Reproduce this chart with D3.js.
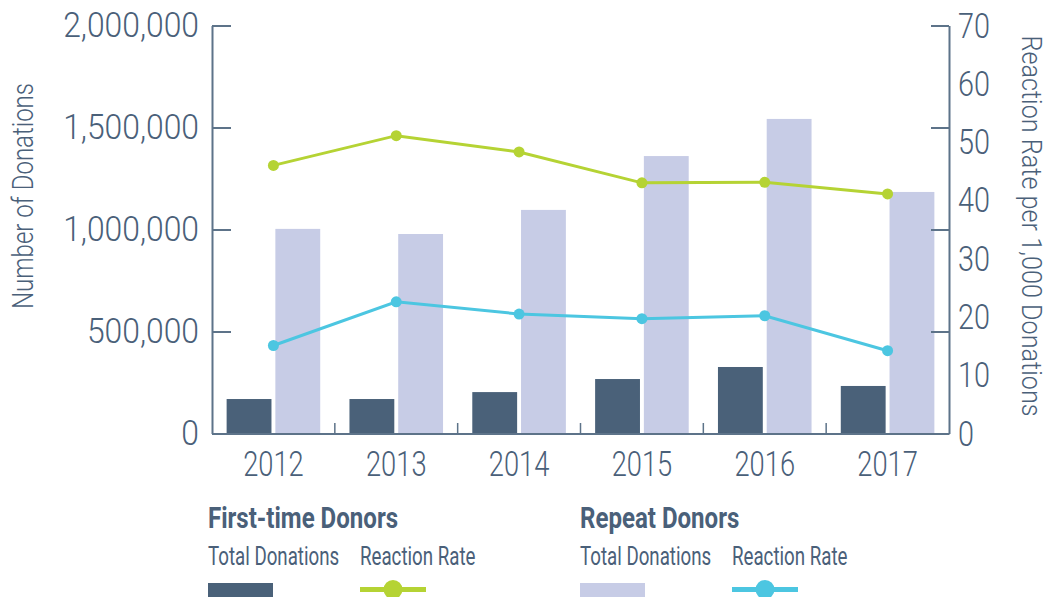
<!DOCTYPE html>
<html>
<head>
<meta charset="utf-8">
<script src="https://cdn.jsdelivr.net/npm/d3@7"></script>
<style>
  body { margin: 0; background: #fff; }
  svg { display: block; font-family: Roboto, "Noto Sans", sans-serif; }
</style>
</head>
<body>
<script>
// chart data
const years = ['2012', '2013', '2014', '2015', '2016', '2017'];
const firstTimeDonations = [169000, 169000, 203000, 267000, 326000, 233000];
const repeatDonations = [1003000, 978000, 1096000, 1360000, 1542000, 1184000];
const firstTimeRate = [46.0, 51.1, 48.3, 43.0, 43.1, 41.1];
const repeatRate = [15.1, 22.6, 20.5, 19.7, 20.2, 14.2];
const leftTicks = [0, 500000, 1000000, 1500000, 2000000];
const rightTicks = [0, 10, 20, 30, 40, 50, 60, 70];

const ink = '#4a6079';
const axisColor = '#5d7389';
const darkBar = '#4a6179';
const lightBar = '#c7cce6';
const green = '#b5d334';
const cyan = '#4cc6e1';

const svg = d3.select('body').append('svg')
    .attr('width', 1050)
    .attr('height', 597);

// scales
const x = d3.scaleBand().domain(years).range([212, 949]);
const xs = d3.scaleBand().domain(['first', 'repeat'])
    .range([0, x.bandwidth()])
    .paddingInner(0.08)
    .paddingOuter(0.3);
const yL = d3.scaleLinear().domain([0, 2000000]).range([433.5, 25.5]);
const yR = d3.scaleLinear().domain([0, 70]).range([433.5, 25.5]);

// condensed look: squeeze text horizontally
function squeeze(sel, sx, xPos) {
  sel.attr('transform', `scale(${sx},1)`);
  if (xPos !== undefined) sel.attr('x', xPos / sx);
}

// bars
const barData = years.map((y, i) => ({year: y, first: firstTimeDonations[i], repeat: repeatDonations[i]}));
svg.append('g').selectAll('.bar-first')
  .data(barData)
  .join('rect')
    .attr('class', 'bar-first')
    .attr('x', d => x(d.year) + xs('first'))
    .attr('y', d => yL(d.first))
    .attr('width', xs.bandwidth())
    .attr('height', d => yL(0) - yL(d.first))
    .attr('fill', darkBar);
svg.append('g').selectAll('.bar-repeat')
  .data(barData)
  .join('rect')
    .attr('class', 'bar-repeat')
    .attr('x', d => x(d.year) + xs('repeat'))
    .attr('y', d => yL(d.repeat))
    .attr('width', xs.bandwidth())
    .attr('height', d => yL(0) - yL(d.repeat))
    .attr('fill', lightBar);

// left axis
const gL = svg.append('g')
    .attr('transform', 'translate(212,0)')
    .call(d3.axisLeft(yL).tickValues(leftTicks).tickSizeInner(-19).tickSizeOuter(0).tickFormat(d3.format(',')));
gL.selectAll('text')
    .attr('font-size', 35).attr('font-family', 'Roboto').attr('font-weight', 300)
    .attr('fill', ink)
    .call(squeeze, 0.91, -13);

// right axis line + ticks (at the left-axis grid)
svg.append('g')
    .attr('transform', 'translate(949,0)')
    .call(d3.axisLeft(yL).tickValues(leftTicks).tickSizeInner(18).tickSizeOuter(0).tickFormat(''));

// right labels
const gR = svg.append('g')
    .attr('transform', 'translate(949,0)')
    .call(d3.axisRight(yR).tickValues(rightTicks).tickSize(0));
gR.select('.domain').remove();
gR.selectAll('text')
    .attr('font-size', 36).attr('font-family', 'Roboto').attr('font-weight', 300)
    .attr('fill', ink)
    .call(squeeze, 0.8, 9);

// x axis
const gX = svg.append('g')
    .attr('transform', 'translate(0,433.5)')
    .call(d3.axisBottom(x).tickSize(0).tickSizeOuter(0));
gX.selectAll('text')
    .attr('font-size', 35).attr('font-family', 'Roboto').attr('font-weight', 300)
    .attr('fill', ink)
    .attr('y', 18);
gX.selectAll('.tick').each(function(d) {
  const t = d3.select(this).select('text');
  t.attr('transform', 'scale(0.78,1)');
});
svg.append('g').selectAll('line')
  .data(years.slice(1))
  .join('line')
    .attr('x1', d => x(d)).attr('x2', d => x(d))
    .attr('y1', 433.5).attr('y2', 423)
    .attr('stroke', axisColor).attr('stroke-width', 1.5);

svg.selectAll('.domain').attr('stroke', axisColor).attr('stroke-width', 2);
svg.selectAll('.tick line').attr('stroke', axisColor).attr('stroke-width', 2);

// axis titles
svg.append('text')
    .attr('transform', 'translate(33,196) rotate(-90) scale(0.83,1)')
    .attr('text-anchor', 'middle')
    .attr('font-size', 29).attr('font-weight', 300)
    .attr('fill', ink)
    .text('Number of Donations');
svg.append('text')
    .attr('transform', 'translate(1022,226) rotate(90) scale(0.9,1)')
    .attr('text-anchor', 'middle')
    .attr('font-size', 28).attr('font-weight', 300)
    .attr('fill', ink)
    .text('Reaction Rate per 1,000 Donations');

// rate lines
const cx = d => x(d.year) + x.bandwidth() / 2;
const rateSeries = [
  {color: green, values: years.map((y, i) => ({year: y, rate: firstTimeRate[i]}))},
  {color: cyan, values: years.map((y, i) => ({year: y, rate: repeatRate[i]}))}
];
const line = d3.line().x(cx).y(d => yR(d.rate));
rateSeries.forEach(s => {
  svg.append('path')
      .datum(s.values)
      .attr('d', line)
      .attr('fill', 'none')
      .attr('stroke', s.color)
      .attr('stroke-width', 3);
  svg.append('g').selectAll('circle')
    .data(s.values)
    .join('circle')
      .attr('cx', cx)
      .attr('cy', d => yR(d.rate))
      .attr('r', 5.5)
      .attr('fill', s.color);
});

// legend
const legendGroups = [
  {title: 'First-time Donors', x: 208, bar: darkBar, line: green},
  {title: 'Repeat Donors', x: 580, bar: lightBar, line: cyan}
];
legendGroups.forEach(g => {
  svg.append('text')
      .attr('y', 528)
      .attr('font-size', 29).attr('font-weight', 700)
      .attr('fill', ink)
      .text(g.title)
      .call(squeeze, 0.83, g.x);
  svg.append('text')
      .attr('y', 565)
      .attr('font-size', 26).attr('font-weight', 400)
      .attr('fill', ink)
      .text('Total Donations')
      .call(squeeze, 0.72, g.x);
  svg.append('text')
      .attr('y', 565)
      .attr('font-size', 26).attr('font-weight', 400)
      .attr('fill', ink)
      .text('Reaction Rate')
      .call(squeeze, 0.72, g.x + 152);
  svg.append('rect')
      .attr('x', g.x).attr('y', 583)
      .attr('width', 65).attr('height', 15)
      .attr('fill', g.bar);
  svg.append('line')
      .attr('x1', g.x + 152).attr('x2', g.x + 218)
      .attr('y1', 589.5).attr('y2', 589.5)
      .attr('stroke', g.line).attr('stroke-width', 5);
  svg.append('circle')
      .attr('cx', g.x + 185).attr('cy', 589.5).attr('r', 9.5)
      .attr('fill', g.line);
});
</script>
</body>
</html>
